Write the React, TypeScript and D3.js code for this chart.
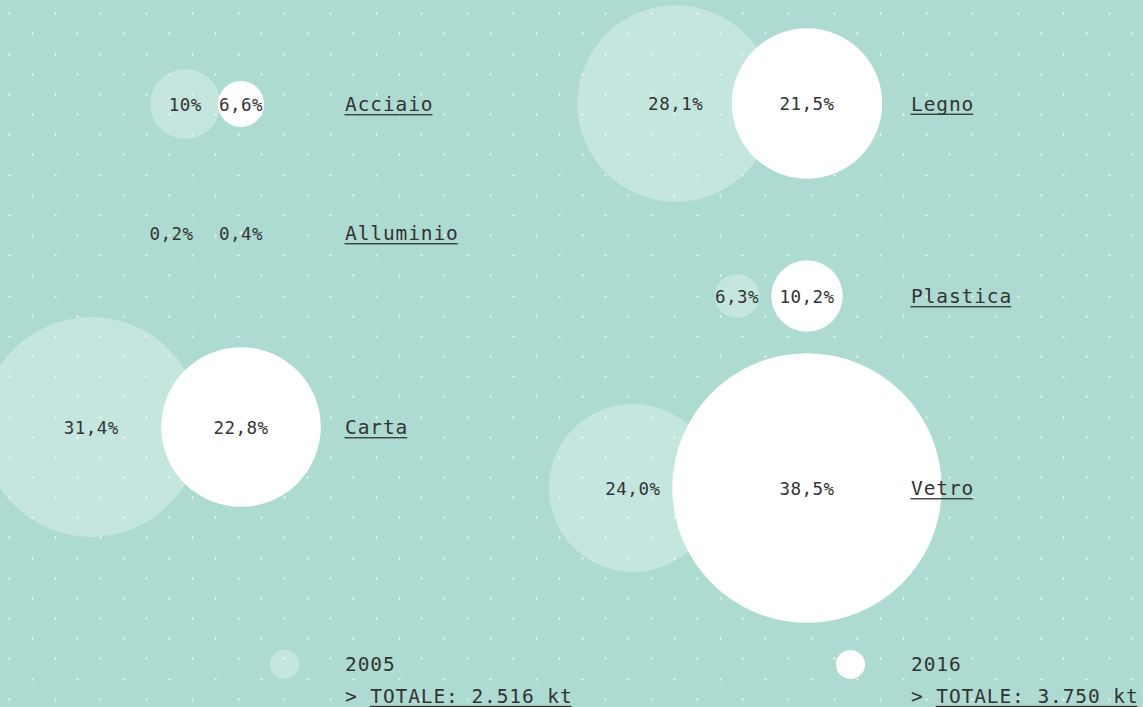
import React, { useEffect, useRef } from 'react';
import * as d3 from 'd3';

// share of packaging recovered per material (%), 2005 vs 2016
const materials = ['Acciaio', 'Alluminio', 'Carta', 'Legno', 'Plastica', 'Vetro'];
const share2005 = [10, 0.2, 31.4, 28.1, 6.3, 24.0];
const share2016 = [6.6, 0.4, 22.8, 21.5, 10.2, 38.5];
const labels2005 = ['10%', '0,2%', '31,4%', '28,1%', '6,3%', '24,0%'];
const labels2016 = ['6,6%', '0,4%', '22,8%', '21,5%', '10,2%', '38,5%'];
const years = ['2005', '2016'];
const totals = ['2.516 kt', '3.750 kt'];

// layout slots (hand placed, like the original)
const column = [0, 0, 0, 1, 1, 1];
const rowY = [104, 233, 427, 103.5, 296, 488];
const pairDist = [55.7, 69.4, 149.7, 131.3, 70, 174.1];
const colCenter = [241, 807];
const colLabel = [345, 911];

const W = 1143;
const H = 707;
const BG = '#addbd1';
const INK = '#333333';
const FONT = '"DejaVu Sans Mono", monospace';

const App: React.FC = () => {
  const svgRef = useRef<SVGSVGElement>(null);

  useEffect(() => {
    document.body.style.margin = '0';
    document.body.style.overflow = 'hidden';
    if (!svgRef.current) return;

    const svg = d3.select(svgRef.current);
    svg.selectAll('*').remove();

    const r = d3.scaleLinear().domain([0, 100]).range([0, 350]);

    svg.append('rect').attr('width', W).attr('height', H).attr('fill', BG);

    // dotted background grid
    const dx = 45.86;
    const dy = 20.16;
    const dots: [number, number][] = [];
    d3.range(0, Math.ceil(H / dy) + 1).forEach(k => {
      const y = 13.3 + k * dy;
      const x0 = k % 2 === 0 ? 8.7 : 8.7 + dx / 2;
      for (let x = x0; x < W; x += dx) dots.push([Math.round(x), Math.round(y)]);
    });
    const grid = svg.append('g').attr('fill', '#fff').attr('opacity', 0.55);
    grid.selectAll('rect.h').data(dots).enter().append('rect')
      .attr('x', d => d[0] - 1).attr('y', d => d[1]).attr('width', 3).attr('height', 1);
    grid.selectAll('rect.v').data(dots).enter().append('rect')
      .attr('x', d => d[0]).attr('y', d => d[1] - 1).attr('width', 1).attr('height', 3);

    const rows = materials.map((m, i) => {
      const cx16 = colCenter[column[i]];
      return {
        name: m,
        cy: rowY[i],
        cx16,
        cx05: cx16 - pairDist[i],
        r05: r(share2005[i]),
        r16: r(share2016[i]),
        l05: labels2005[i],
        l16: labels2016[i],
        lx: colLabel[column[i]],
      };
    });

    svg.append('g').selectAll('circle').data(rows).enter().append('circle')
      .attr('cx', d => d.cx05).attr('cy', d => d.cy).attr('r', d => d.r05)
      .attr('fill', '#fff').attr('fill-opacity', 0.3);

    svg.append('g').selectAll('circle').data(rows).enter().append('circle')
      .attr('cx', d => d.cx16).attr('cy', d => d.cy).attr('r', d => d.r16)
      .attr('fill', '#fff');

    const pct = svg.append('g')
      .attr('font-family', FONT).attr('font-size', 17.5).attr('letter-spacing', 0.5)
      .attr('fill', INK).attr('text-anchor', 'middle');
    pct.selectAll('text.a').data(rows).enter().append('text')
      .attr('x', d => d.cx05).attr('y', d => d.cy + 6.5).text(d => d.l05);
    pct.selectAll('text.b').data(rows).enter().append('text')
      .attr('x', d => d.cx16).attr('y', d => d.cy + 6.5).text(d => d.l16);

    const underline = (sel: d3.Selection<SVGTextElement, any, any, any>, skipChars = 0) => {
      sel.each(function () {
        const node = this as SVGTextElement;
        const len = node.getComputedTextLength();
        const n = (node.textContent || '').length;
        const adv = len / n;
        const x = +node.getAttribute('x')!;
        const y = +node.getAttribute('y')!;
        d3.select(node.parentNode as SVGGElement).append('rect')
          .attr('x', x + skipChars * adv - 0.5)
          .attr('y', y + 2.8)
          .attr('width', len - skipChars * adv - 0.5)
          .attr('height', 1.3)
          .attr('fill', INK);
      });
    };

    const labels = svg.append('g')
      .attr('font-family', FONT).attr('font-size', 19.5).attr('letter-spacing', 0.9)
      .attr('fill', INK);
    const lt = labels.selectAll('text').data(rows).enter().append('text')
      .attr('x', d => d.lx).attr('y', d => d.cy + 7.3).text(d => d.name);
    underline(lt as any);

    // legend
    const legend = svg.append('g')
      .attr('font-family', FONT).attr('font-size', 19.5).attr('letter-spacing', 0.9)
      .attr('fill', INK);
    years.forEach((yr, i) => {
      const lx = colLabel[i];
      legend.append('circle')
        .attr('cx', lx - 60.5).attr('cy', 664.5).attr('r', 14.5)
        .attr('fill', '#fff').attr('fill-opacity', i === 0 ? 0.3 : 1);
      legend.append('text').attr('x', lx).attr('y', 671).text(yr);
      const t = legend.append('text').attr('x', lx).attr('y', 703)
        .text(`> TOTALE: ${totals[i]}`);
      underline(t as any, 2);
    });
  }, []);

  return <svg ref={svgRef} width={W} height={H} style={{ display: 'block' }} />;
};

export default App;
